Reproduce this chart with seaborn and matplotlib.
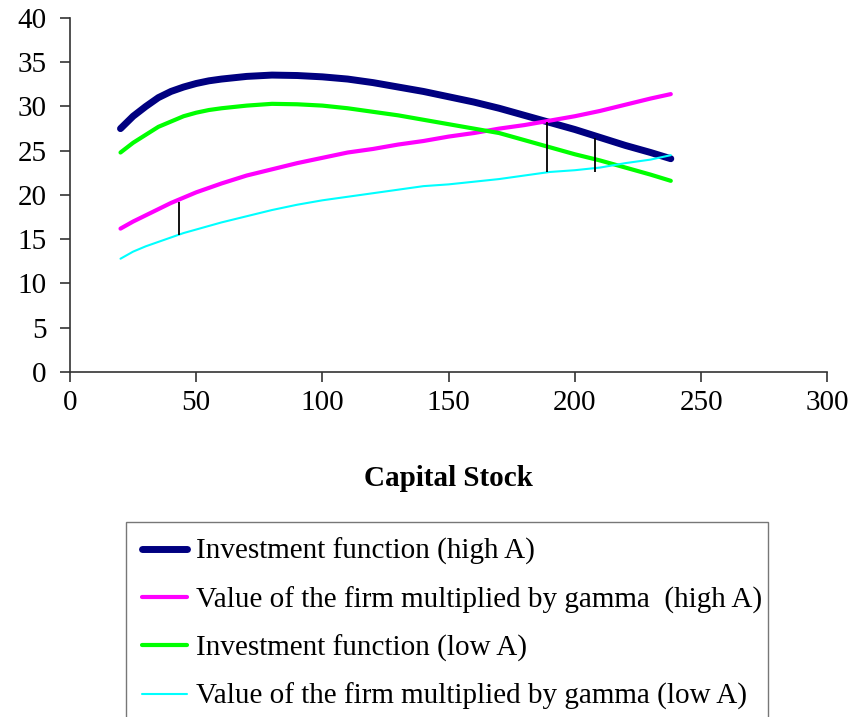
"""
Investment function vs. value of the firm (times gamma) over capital stock.
"""

import pandas as pd
import matplotlib.pyplot as plt
import seaborn as sns

# capital stock grid
capital = [20, 25, 30, 35, 40, 45, 50, 55, 60, 70, 80, 90, 100, 110, 120, 130, 140, 150,
           160, 170, 180, 190, 200, 210, 220, 230, 238]

invest_high = [27.5, 28.9, 30.0, 31.0, 31.7, 32.2, 32.6, 32.9, 33.1, 33.4, 33.55, 33.5,
               33.35, 33.1, 32.7, 32.2, 31.7, 31.1, 30.5, 29.8, 29.0, 28.2, 27.4, 26.5,
               25.6, 24.8, 24.1]
value_high = [16.2, 17.0, 17.7, 18.4, 19.1, 19.7, 20.3, 20.8, 21.3, 22.2, 22.9, 23.6,
              24.2, 24.8, 25.2, 25.7, 26.1, 26.6, 27.0, 27.5, 27.9, 28.4, 28.9, 29.5,
              30.2, 30.9, 31.4]
invest_low = [24.8, 25.9, 26.8, 27.7, 28.3, 28.9, 29.3, 29.6, 29.8, 30.1, 30.3, 30.25,
              30.1, 29.8, 29.4, 29.0, 28.5, 28.0, 27.5, 27.0, 26.2, 25.4, 24.6, 23.9,
              23.1, 22.3, 21.6]
value_low = [12.8, 13.6, 14.2, 14.7, 15.2, 15.7, 16.1, 16.5, 16.9, 17.6, 18.3, 18.9,
             19.4, 19.8, 20.2, 20.6, 21.0, 21.2, 21.5, 21.8, 22.2, 22.6, 22.8, 23.1,
             23.6, 24.0, 24.5]

# black vertical gap markers
gap_x = [43.2, 188.9, 207.9]
gap_top = [19.2, 28.3, 26.4]
gap_bottom = [15.45, 22.6, 22.65]

labels = ['Investment function (high A)',
          'Value of the firm multiplied by gamma  (high A)',
          'Investment function (low A)',
          'Value of the firm multiplied by gamma (low A)']
colors = ['#000080', '#FF00FF', '#00FF00', '#00FFFF']
widths = [5.0, 3.0, 3.0, 1.5]

sns.set_style('white')
plt.rcParams['font.family'] = ['Liberation Serif', 'DejaVu Serif']
for key in ['text.color', 'axes.labelcolor', 'xtick.color', 'ytick.color']:
    plt.rcParams[key] = 'black'

fig = plt.figure(figsize=(8.59, 7.17), dpi=100)
ax = fig.add_axes([0.0815, 0.4812, 0.8816, 0.4937])

series = [invest_high, value_high, invest_low, value_low]
handles = []
for vals, lab, col, lw in zip(series, labels, colors, widths):
    df = pd.DataFrame({'capital': capital, 'value': vals})
    sns.lineplot(data=df, x='capital', y='value', ax=ax, color=col,
                 linewidth=lw, label=lab, legend=False,
                 solid_capstyle='round')
    handles.append(ax.lines[-1])

ax.vlines(gap_x, gap_bottom, gap_top, color='black', linewidth=1.3)

ax.set_xlim(0, 300)
ax.set_ylim(0, 40)
ax.set_xticks(range(0, 301, 50))
ax.set_yticks(range(0, 41, 5))
ax.tick_params(axis='both', labelsize=21, direction='out', length=7,
               width=1.2, color='#333333', labelcolor='black')
ax.tick_params(axis='y', pad=10, left=True)
ax.tick_params(axis='x', pad=6, bottom=True)

sns.despine(ax=ax)
for side in ['left', 'bottom']:
    ax.spines[side].set_color('#333333')
    ax.spines[side].set_linewidth(1.2)

ax.set_xlabel('Capital Stock', fontsize=21, fontweight='bold', color='black')
ax.set_ylabel('')
ax.xaxis.set_label_coords(0.5, -(479 - 372) / 354)
ax.xaxis.label.set_va('center')

leg = fig.legend(handles, labels, loc='upper left',
                 bbox_to_anchor=(126 / 859, 1 - 522 / 717, (768 - 126) / 859, 0.0),
                 mode='expand', fontsize=21, frameon=True, fancybox=False,
                 borderaxespad=0, borderpad=0.55, labelspacing=0.72,
                 handlelength=1.55, handletextpad=0.3)
leg.get_frame().set_edgecolor('#555555')
leg.get_frame().set_linewidth(1.0)
for txt in leg.get_texts():
    txt.set_color('black')

fig.savefig('out.png', dpi=100)
